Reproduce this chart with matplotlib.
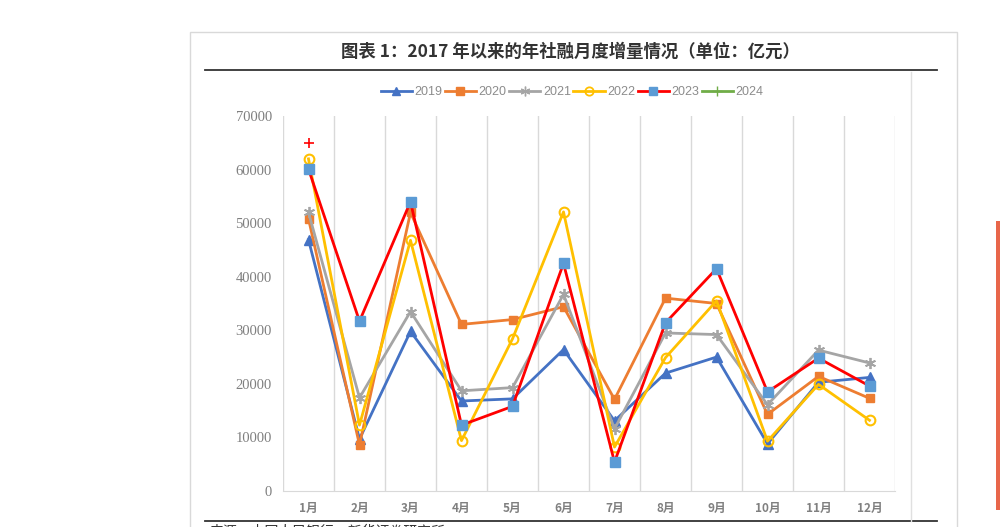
import matplotlib
matplotlib.use('Agg')
import matplotlib.pyplot as plt
from matplotlib.lines import Line2D
from matplotlib.patches import Rectangle
import numpy as np

plt.rcParams['font.family'] = ['Noto Sans CJK SC', 'DejaVu Sans']

months = ['1月', '2月', '3月', '4月', '5月', '6月', '7月', '8月', '9月', '10月', '11月', '12月']

# 社融月度增量（亿元）
y2019 = [46900, 9700, 29800, 16800, 17200, 26400, 13100, 22000, 25000, 8800, 20300, 21200]
y2020 = [50800, 8600, 52000, 31100, 32000, 34400, 17100, 36000, 35000, 14300, 21400, 17300]
y2021 = [52000, 17400, 33500, 18700, 19300, 36700, 11600, 29500, 29200, 16100, 26300, 23900]
y2022 = [62000, 12300, 46800, 9400, 28400, 52100, 8200, 24900, 35500, 9300, 19900, 13200]
y2023 = [60100, 31700, 54000, 12300, 15800, 42500, 5400, 31400, 41500, 18500, 24800, 19600]
y2024 = [65000]

fig = plt.figure(figsize=(10, 5.27), dpi=100)
W, H = 1000, 527


def fx(px):
    return px / W


def fy(py):
    return 1 - py / H


# page decorations (outer frame, title rules, right-hand bar)
fig.add_artist(Rectangle((fx(190), fy(540)), fx(957) - fx(190), fy(32) - fy(540),
                         transform=fig.transFigure, fill=False, edgecolor='#d9d9d9', lw=1.0))
fig.add_artist(Line2D([fx(205), fx(937)], [fy(70), fy(70)], transform=fig.transFigure,
                      color='#333333', lw=1.3))
fig.add_artist(Line2D([fx(205), fx(937)], [fy(521), fy(521)], transform=fig.transFigure,
                      color='#333333', lw=1.3))
fig.add_artist(Line2D([fx(911), fx(911)], [fy(72), fy(521)], transform=fig.transFigure,
                      color='#e0e0e0', lw=1.0))
fig.add_artist(Rectangle((fx(996), fy(510)), fx(4), fy(221) - fy(510),
                         transform=fig.transFigure, color='#e8664a', lw=0))

fig.text(fx(570), fy(52), '图表 1：2017 年以来的年社融月度增量情况（单位：亿元）',
         ha='center', va='center', fontsize=12.5, fontweight='bold', color='#333333')
fig.text(fx(210), fy(524), '来源：中国人民银行，新华证券研究所',
         ha='left', va='top', fontsize=10, color='#333333')

ax = fig.add_axes([fx(283), fy(491), fx(895) - fx(283), fy(116) - fy(491)])
x = np.arange(len(months))

ax.plot(x, y2019, color='#4472C4', lw=2.0, marker='^', ms=6.5, label='2019')
ax.plot(x, y2020, color='#ED7D31', lw=2.0, marker='s', ms=6, label='2020')
ax.plot(x, y2021, color='#A5A5A5', lw=2.0, marker=(6, 2, 0), ms=8, mew=1.3, label='2021')
ax.plot(x, y2022, color='#FFC000', lw=2.0, marker='o', ms=7, mfc='none', mew=1.5, label='2022')
ax.plot(x, y2023, color='#FF0000', lw=2.0, marker='s', ms=6.5, mfc='#5B9BD5', mec='#5B9BD5', label='2023')
ax.plot(x[:len(y2024)], y2024, color='#70AD47', lw=2.0, ls='none', marker='+', ms=7, mew=1.2,
        mec='#FF0000', label='2024')

ax.set_xlim(-0.5, 11.5)
ax.set_ylim(0, 70000)
ax.set_yticks(np.arange(0, 70001, 10000))
ax.set_xticks(x)
ax.set_xticklabels(months)
for v in np.arange(-0.5, 12, 1):
    ax.axvline(v, color='#d9d9d9', lw=1.0, zorder=0)
for s in ['top', 'left', 'right']:
    ax.spines[s].set_visible(False)
ax.spines['bottom'].set_color('#d9d9d9')
ax.tick_params(axis='both', length=0)
ax.tick_params(axis='y', labelsize=10.5, labelcolor='#7f7f7f', pad=8)
ax.tick_params(axis='x', labelsize=8.5, labelcolor='#808080', pad=8)
for t in ax.get_yticklabels():
    t.set_family(['Liberation Serif'])
for t in ax.get_xticklabels():
    t.set_fontweight('bold')

handles = [
    Line2D([], [], color='#4472C4', lw=2.0, marker='^', ms=6),
    Line2D([], [], color='#ED7D31', lw=2.0, marker='s', ms=5.5),
    Line2D([], [], color='#A5A5A5', lw=2.0, marker=(6, 2, 0), ms=7),
    Line2D([], [], color='#FFC000', lw=2.0, marker='o', ms=6, mfc='none', mew=1.3),
    Line2D([], [], color='#FF0000', lw=2.0, marker='s', ms=6, mfc='#5B9BD5', mec='#5B9BD5'),
    Line2D([], [], color='#70AD47', lw=2.0, marker='+', ms=7),
]
leg = fig.legend(handles, ['2019', '2020', '2021', '2022', '2023', '2024'],
                 loc='center', bbox_to_anchor=(fx(572), fy(92)), ncol=6, frameon=False,
                 fontsize=9, handlelength=2.5, handletextpad=0.2, columnspacing=0.2)
for t in leg.get_texts():
    t.set_color('#8c8c8c')
    t.set_family(['Liberation Sans'])

fig.savefig('out.png', dpi=100)
